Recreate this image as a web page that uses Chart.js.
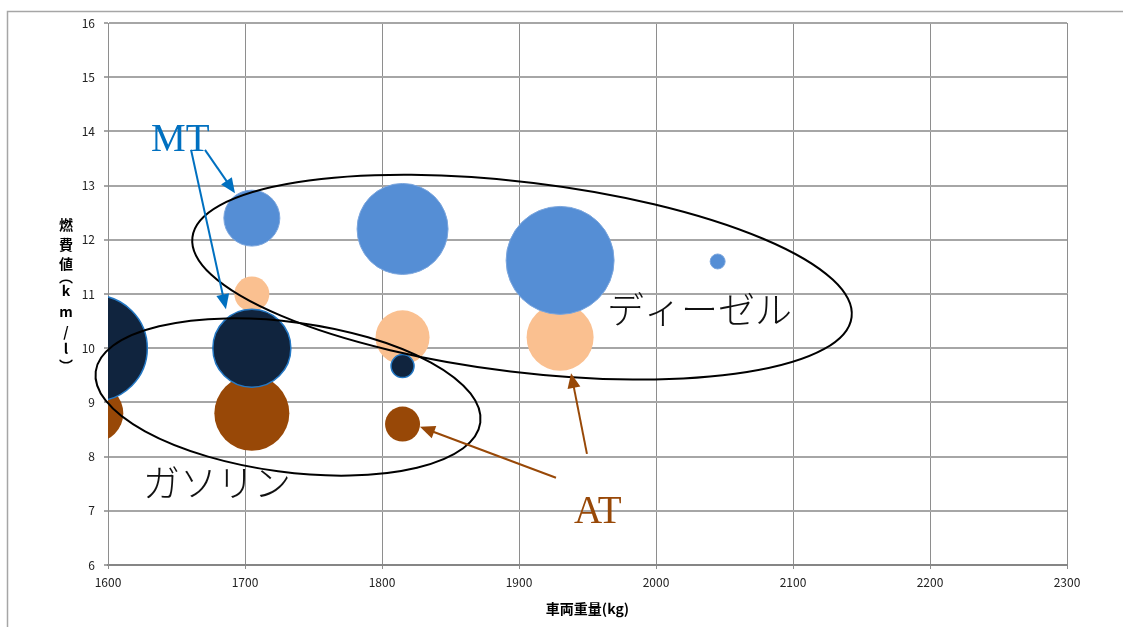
<!DOCTYPE html>
<html lang="ja">
<head>
<meta charset="utf-8">
<title>車両重量と燃費値</title>
<script src="https://cdn.jsdelivr.net/npm/chart.js@4.4.1/dist/chart.umd.min.js"></script>
<style>
  html, body { margin: 0; padding: 0; background: #fff; }
  #wrap { width: 1123px; height: 627px; position: relative; }
</style>
</head>
<body>
<div id="wrap"><canvas id="fuel-chart" width="1123" height="627"></canvas></div>
<script>
// ---- data: 車両重量(kg), 燃費値(km/l), bubble size (radius) ----
const gasMtWeight = [1590, 1705, 1815];
const gasMtFuel   = [10.0, 10.0, 9.67];
const gasMtSize   = [53, 39, 11.5];

const gasAtWeight = [1590, 1705, 1815];
const gasAtFuel   = [8.8, 8.8, 8.6];
const gasAtSize   = [29, 37.5, 17.5];

const dslMtWeight = [1705, 1815, 1930, 2045];
const dslMtFuel   = [12.4, 12.2, 11.62, 11.6];
const dslMtSize   = [28, 45.5, 54, 7.5];

const dslAtWeight = [1705, 1815, 1930];
const dslAtFuel   = [11.0, 10.2, 10.2];
const dslAtSize   = [17.5, 27, 33.5];

const xTicks = [1600, 1700, 1800, 1900, 2000, 2100, 2200, 2300];
const yTicks = [6, 7, 8, 9, 10, 11, 12, 13, 14, 15, 16];

function toPoints(xs, ys, rs) {
    return xs.map((x, i) => ({ x: x, y: ys[i], r: rs[i] }));
}

// ---- hand drawn notes (in data units, turned into pixels by the scales) ----
const ellipses = [
    { cx: 1731.4, cy: 9.10, a: 194, b: 75, rot: 7.6 },   // ガソリン
    { cx: 1902.2, cy: 11.31, a: 332, b: 95, rot: 6.9 }   // ディーゼル
];
const arrows = [
    { from: [1670.8, 13.66], to: [1692.7, 12.86], color: "#0070C0" },
    { from: [1660.6, 13.66], to: [1686.1, 10.72], color: "#0070C0" },
    { from: [1927.0, 7.61],  to: [1827.7, 8.55],  color: "#984807" },
    { from: [1949.6, 8.05],  to: [1938.0, 9.54],  color: "#984807" }
];
const notes = [
    { text: "MT", x: 1631.4, y: 13.64, color: "#0070C0", font: '39px "Liberation Serif"', base: "alphabetic" },
    { text: "AT", x: 1940.1, y: 6.775, color: "#984807", font: '39px "Liberation Serif"', base: "alphabetic" },
    { text: "ディーゼル", x: 1964.2, y: 10.70, color: "#111", font: '300 37px "Noto Sans CJK JP"', base: "middle" },
    { text: "ガソリン", x: 1625.5, y: 7.51, color: "#111", font: '300 37px "Noto Sans CJK JP"', base: "middle" }
];
const yTitleChars = [["燃", 0], ["費", 20], ["値", 39], ["︵", 52], ["k", 66], ["m", 87], ["/", 107], ["l", 124], ["︶", 141]];

function drawArrow(ctx, x1, y1, x2, y2, color) {
    const ang = Math.atan2(y2 - y1, x2 - x1);
    const len = 15, hw = 6.5;
    const c = Math.cos(ang), s = Math.sin(ang);
    ctx.strokeStyle = color;
    ctx.lineWidth = 2;
    ctx.beginPath();
    ctx.moveTo(x1, y1);
    ctx.lineTo(x2 - c * len * 0.8, y2 - s * len * 0.8);
    ctx.stroke();
    ctx.fillStyle = color;
    ctx.beginPath();
    ctx.moveTo(x2, y2);
    ctx.lineTo(x2 - len * c + hw * s, y2 - len * s - hw * c);
    ctx.lineTo(x2 - len * c - hw * s, y2 - len * s + hw * c);
    ctx.closePath();
    ctx.fill();
}

const notesPlugin = {
    id: "notes",
    beforeDraw(chart) {
        const ctx = chart.ctx;
        ctx.save();
        ctx.strokeStyle = "#A6A6A6";
        ctx.lineWidth = 1.5;
        ctx.strokeRect(7.5, 11.5, 1300, 800);
        ctx.restore();
    },
    afterDatasetsDraw(chart) {
        const ctx = chart.ctx;
        const xs = chart.scales.x, ys = chart.scales.y;
        ctx.save();
        ctx.strokeStyle = "#000";
        ctx.lineWidth = 2;
        ellipses.forEach(e => {
            ctx.beginPath();
            ctx.ellipse(xs.getPixelForValue(e.cx), ys.getPixelForValue(e.cy), e.a, e.b, e.rot * Math.PI / 180, 0, Math.PI * 2);
            ctx.stroke();
        });
        arrows.forEach(a => {
            drawArrow(ctx,
                xs.getPixelForValue(a.from[0]), ys.getPixelForValue(a.from[1]),
                xs.getPixelForValue(a.to[0]), ys.getPixelForValue(a.to[1]), a.color);
        });
        notes.forEach(n => {
            ctx.font = n.font;
            ctx.fillStyle = n.color;
            ctx.textAlign = "left";
            ctx.textBaseline = n.base;
            ctx.fillText(n.text, xs.getPixelForValue(n.x), ys.getPixelForValue(n.y));
        });
        ctx.restore();
    },
    afterDraw(chart) {
        // stacked y axis title
        const ctx = chart.ctx;
        ctx.save();
        ctx.font = 'bold 14px "Noto Sans CJK JP"';
        ctx.fillStyle = "#000";
        ctx.textAlign = "center";
        ctx.textBaseline = "middle";
        yTitleChars.forEach(([ch, dy]) => ctx.fillText(ch, 66, 225 + dy));
        ctx.restore();
    }
};

const tickFont = { family: '"Noto Sans CJK JP", "DejaVu Sans", sans-serif', size: 12 };

new Chart(document.getElementById("fuel-chart"), {
    type: "bubble",
    data: {
        datasets: [
            { label: "ガソリン MT", data: toPoints(gasMtWeight, gasMtFuel, gasMtSize),
              backgroundColor: "#10243E", borderColor: "#2478C4", borderWidth: 1.5 },
            { label: "ガソリン AT", data: toPoints(gasAtWeight, gasAtFuel, gasAtSize),
              backgroundColor: "#984807", borderColor: "#984807", borderWidth: 0 },
            { label: "ディーゼル MT", data: toPoints(dslMtWeight, dslMtFuel, dslMtSize),
              backgroundColor: "#558ED5", borderColor: "#7AA5DD", borderWidth: 1 },
            { label: "ディーゼル AT", data: toPoints(dslAtWeight, dslAtFuel, dslAtSize),
              backgroundColor: "#FAC090", borderColor: "#FAC090", borderWidth: 0 }
        ]
    },
    options: {
        responsive: false,
        animation: false,
        clip: 0,
        events: [],
        layout: { autoPadding: false, padding: { left: 78, right: 56, top: 23, bottom: 0 } },
        plugins: {
            legend: { display: false },
            tooltip: { enabled: false }
        },
        scales: {
            x: {
                type: "linear",
                min: xTicks[0],
                max: xTicks[xTicks.length - 1],
                afterBuildTicks: s => { s.ticks = xTicks.map(v => ({ value: v })); },
                afterFit: s => { s.height = 62; },
                ticks: { color: "#222", font: tickFont, padding: 6, maxRotation: 0, callback: v => String(v) },
                grid: { color: "#8E8E8E", lineWidth: 1, tickLength: 4 },
                border: { color: "#868686", width: 2 },
                title: { display: true, text: "車両重量(kg)", color: "#000",
                         font: { family: '"Noto Sans CJK JP"', size: 14, weight: "bold" },
                         padding: { top: 0, bottom: 10 } }
            },
            y: {
                type: "linear",
                min: yTicks[0],
                max: yTicks[yTicks.length - 1],
                afterBuildTicks: s => { s.ticks = yTicks.map(v => ({ value: v })); },
                afterFit: s => { s.width = 30; },
                ticks: { color: "#222", font: tickFont, padding: 9, callback: v => String(v) },
                grid: { color: "#A6A6A6", lineWidth: 2, tickLength: 4 },
                border: { color: "#8E8E8E", width: 1 }
            }
        }
    },
    plugins: [notesPlugin]
});
</script>
</body>
</html>
